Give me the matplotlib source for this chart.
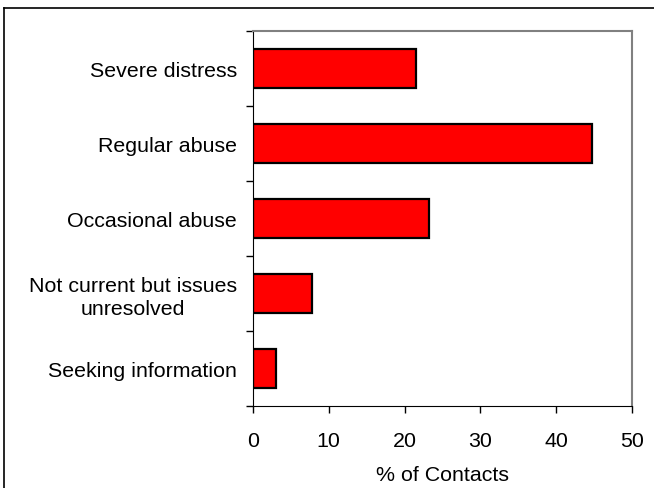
import numpy as np
import matplotlib.pyplot as plt
from matplotlib.lines import Line2D

plt.rcParams['font.family'] = 'Liberation Sans'

categories = ['Severe distress', 'Regular abuse', 'Occasional abuse',
              'Not current but issues\nunresolved', 'Seeking information']
values = [21.5, 44.7, 23.2, 7.8, 3.1]
xticks = [0, 10, 20, 30, 40, 50]

fig = plt.figure(figsize=(6.54, 4.89), dpi=100)
ax = fig.add_axes([253/654, 1-407/489, (632-253)/654, (407-32)/489])

ypos = np.arange(len(categories))
ax.barh(ypos, values, height=0.53, color='#ff0000', edgecolor='black', linewidth=1.6)
ax.set_ylim(len(categories)-0.5, -0.5)
ax.set_xlim(0, 50)

ax.set_yticks(ypos)
ax.set_yticklabels(categories, fontsize=15.4, multialignment='center', linespacing=1.25)
ax.set_yticks(np.arange(-0.5, len(categories), 1), minor=True)
ax.tick_params(axis='y', which='major', length=0, pad=11.5)
ax.tick_params(axis='y', which='minor', length=5, width=1, direction='out')

ax.set_xticks(xticks)
ax.set_xticklabels([str(t) for t in xticks], fontsize=15.4)
ax.tick_params(axis='x', length=5, width=1, direction='out', pad=13)
ax.set_xlabel('% of Contacts', fontsize=15.4, labelpad=11)

ax.spines['left'].set_color('black')
ax.spines['bottom'].set_color('black')
ax.spines['top'].set_color('#808080')
ax.spines['right'].set_color('#808080')
ax.spines['top'].set_linewidth(1.5)
ax.spines['right'].set_linewidth(1.5)

# outer chart border
fig.add_artist(Line2D([4/654, 1.0], [1-9/489, 1-9/489], transform=fig.transFigure, color='black', linewidth=1.2))
fig.add_artist(Line2D([4/654, 4/654], [0.0, 1-9/489], transform=fig.transFigure, color='black', linewidth=1.2))

plt.savefig('out.png', dpi=100)
plt.close()
